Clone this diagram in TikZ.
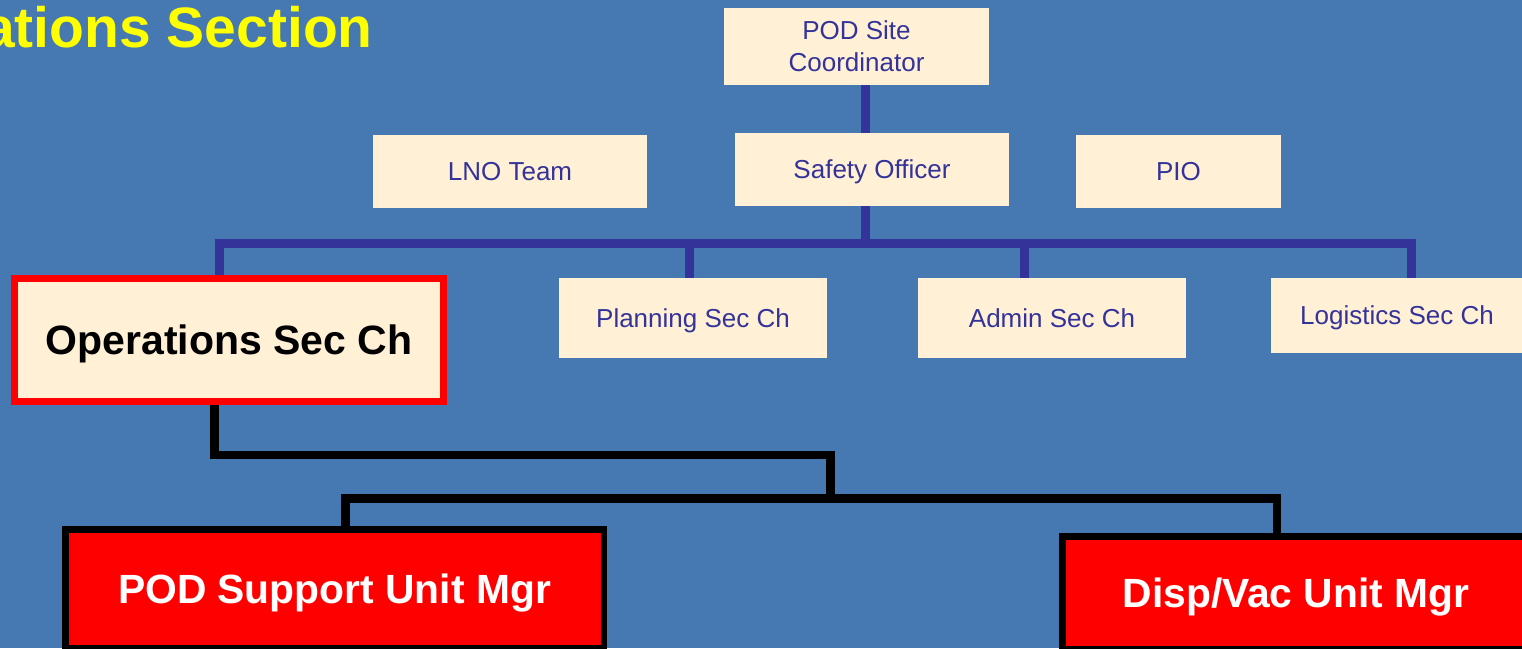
\documentclass[tikz,border=0pt]{standalone}
\usepackage{fontspec}
\setmainfont{Liberation Sans}
\definecolor{bgblue}{RGB}{70,120,177}
\definecolor{boxfill}{RGB}{255,240,214}
\definecolor{navy}{RGB}{51,51,153}
\definecolor{titleyellow}{RGB}{255,255,0}
\definecolor{pred}{RGB}{255,0,0}
\pgfdeclarelayer{bglayer}
\pgfdeclarelayer{linelayer}
\pgfsetlayers{bglayer,linelayer,main}
\tikzset{
  basebox/.style={fill=boxfill, draw=none, inner sep=0pt, outer sep=0pt, text=navy,
    font=\fontsize{26}{32}\selectfont, align=center},
  plainbox/.style={basebox, text height=18.6pt, text depth=0pt},
  opsbox/.style={fill=boxfill, draw=pred, line width=7pt, inner sep=0pt, outer sep=0pt,
    text=black, font=\fontsize{41}{48}\selectfont\bfseries, text height=29.3pt, text depth=0pt},
  unitbox/.style={fill=pred, draw=black, line width=6.5pt, inner sep=0pt, outer sep=0pt,
    text=white, font=\fontsize{40.8}{48}\selectfont\bfseries, text height=29.2pt, text depth=0pt},
  blueline/.style={draw=navy, line width=9pt},
  blackline/.style={draw=black, line width=8.5pt},
}
\begin{document}
\begin{tikzpicture}[x=1pt,y=-1pt]
\begin{pgfonlayer}{bglayer}
\fill[bgblue] (0,0) rectangle (1522,648);
\end{pgfonlayer}
\useasboundingbox (0,0) rectangle (1522,648);

% title
\node[anchor=base east, inner sep=0pt, text=titleyellow, font=\fontsize{57}{64}\selectfont\bfseries]
  (title) at (373,47) {ations Section};

% top boxes
\node[basebox, minimum width=265pt, minimum height=77pt] (coord) at (856.5,46.5) {POD Site\\Coordinator};
\node[plainbox, minimum width=274pt, minimum height=73pt] (safety) at (872,169.5) {Safety Officer};
\node[plainbox, minimum width=274pt, minimum height=73pt] (lno) at (510,171.5) {LNO Team};
\node[plainbox, minimum width=205pt, minimum height=73pt] (pio) at (1178.5,171.5) {PIO};

% section chiefs
\node[opsbox, minimum width=429pt, minimum height=123pt] (ops) at (229,340) {Operations Sec Ch};
\node[plainbox, minimum width=268pt, minimum height=80pt] (plan) at (693,318) {Planning Sec Ch};
\node[plainbox, minimum width=268pt, minimum height=80pt] (admin) at (1052,318) {Admin Sec Ch};
\node[plainbox, minimum width=252pt, minimum height=75pt] (logi) at (1397,315.5) {Logistics Sec Ch};

% units
\node[unitbox, minimum width=538.5pt, minimum height=118.5pt] (podsup) at (334.5,588.5) {POD Support Unit Mgr};
\node[unitbox, minimum width=467.5pt, minimum height=112.5pt] (disp) at (1296,592.5) {Disp/Vac Unit Mgr};

% junction coordinates
\coordinate (jS) at (865,243.5);
\coordinate (jA) at (219,243.5);
\coordinate (jP) at (689,243.5);
\coordinate (jD) at (1024.5,243.5);
\coordinate (jL) at (1411,243.5);
\coordinate (k1) at (214.5,455);
\coordinate (k2) at (830.5,455);
\coordinate (k3) at (830.5,498.5);
\coordinate (kL) at (345.5,498.5);
\coordinate (kR) at (1277,498.5);

\begin{pgfonlayer}{linelayer}
\draw[blueline] (jS |- coord.south) -- (jS |- safety.north);
\draw[blueline] (jS |- safety.south) -- (jS);
\draw[blueline] (jA |- ops.north) -- (jA) -- (jL) -- (jL |- logi.north);
\draw[blueline] (jP) -- (jP |- plan.north);
\draw[blueline] (jD) -- (jD |- admin.north);
\draw[blackline] (k1 |- ops.south) -- (k1) -- (k2) -- (k3);
\draw[blackline] (kL |- podsup.north) -- (kL) -- (kR) -- (kR |- disp.north);
\end{pgfonlayer}
\end{tikzpicture}
\end{document}
